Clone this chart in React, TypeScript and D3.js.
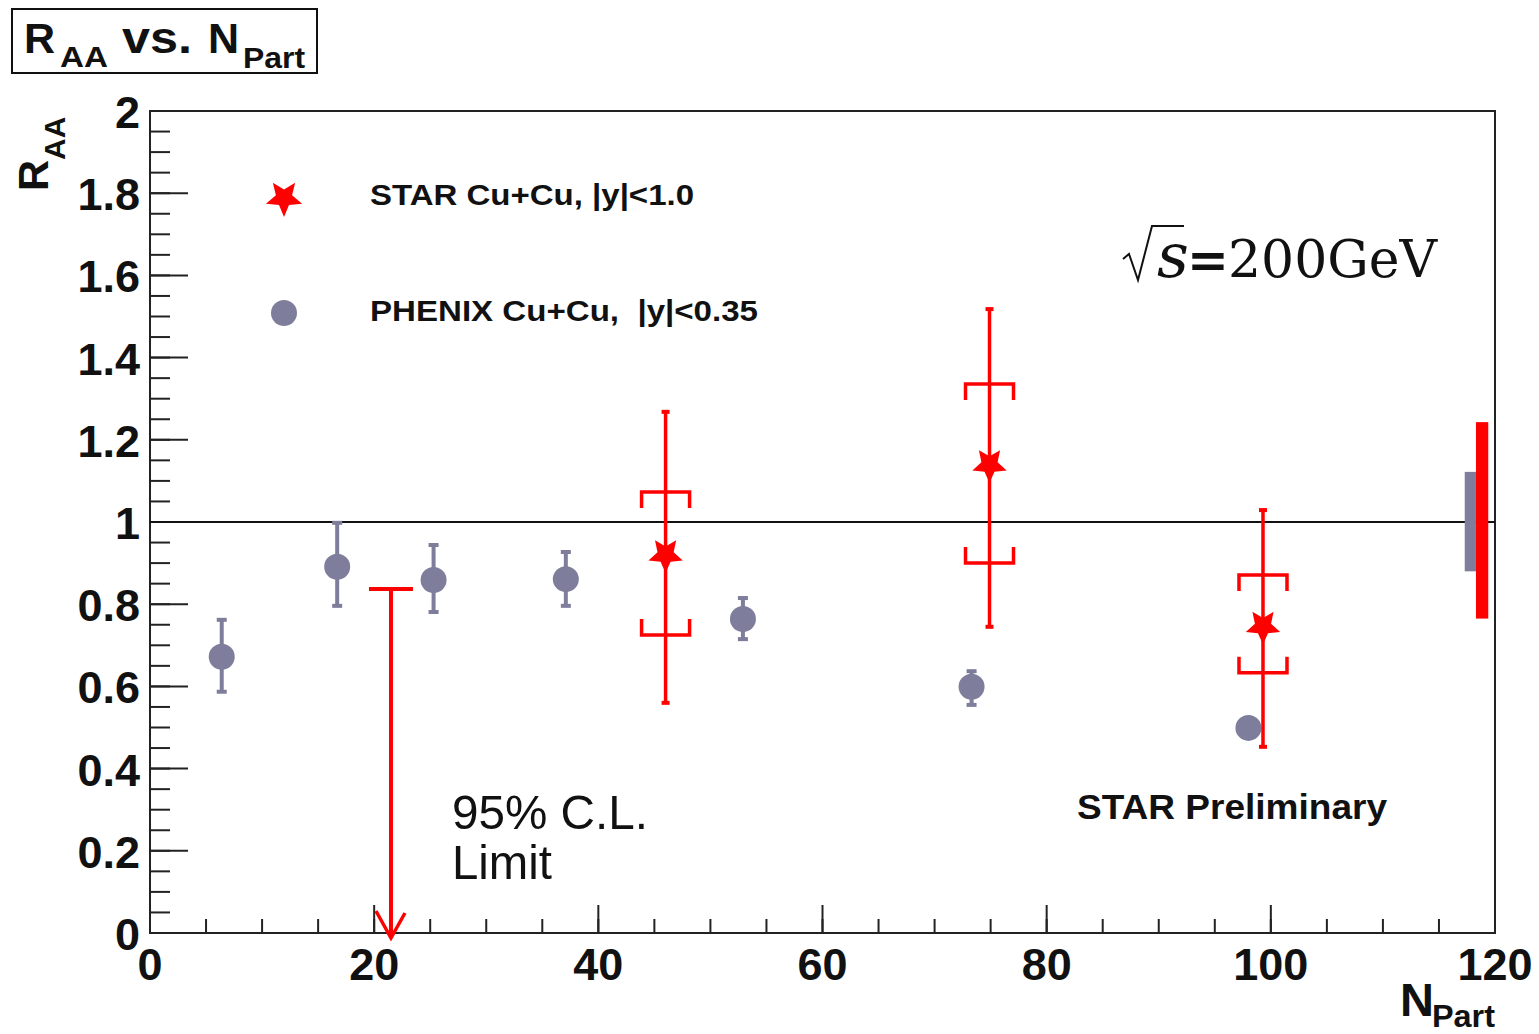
import React, { useEffect } from "react";
import * as d3 from "d3";

// ---- data ----
const phenixN = [6.4, 16.7, 25.3, 37.1, 52.9, 73.3, 98.0];
const phenixR = [0.672, 0.891, 0.859, 0.861, 0.764, 0.599, 0.499];
const phenixHi = [0.762, 0.998, 0.944, 0.927, 0.815, 0.637, 0.52];
const phenixLo = [0.587, 0.796, 0.781, 0.796, 0.715, 0.555, 0.48];

const starN = [46.0, 74.9, 99.3];
const starR = [0.92, 1.139, 0.746];
const starStatHi = [1.268, 1.518, 1.029];
const starStatLo = [0.56, 0.745, 0.453];
const starSysHi = [1.073, 1.336, 0.871];
const starSysLo = [0.725, 0.9, 0.633];

const limitN = 21.5;
const limitR = 0.837;

const phenixNorm = [0.88, 1.122]; // normalization band
const starNorm = [0.765, 1.243]; // normalization band
const normN = [117.3, 118.3, 119.4];

const xMajor = [0, 20, 40, 60, 80, 100, 120];
const yMajor = [0, 0.2, 0.4, 0.6, 0.8, 1, 1.2, 1.4, 1.6, 1.8, 2];
const yLabels = ["0", "0.2", "0.4", "0.6", "0.8", "1", "1.2", "1.4", "1.6", "1.8", "2"];

const legendItems = ["STAR Cu+Cu, |y|<1.0", "PHENIX Cu+Cu,  |y|<0.35"];

const RED = "#ff0000";
const GRAY = "#7e7e9c";
const SANS = "'Liberation Sans', Arial, Helvetica, sans-serif";
const SERIF = "'DejaVu Serif', serif";

const L = 150, R = 1495, T = 111, B = 933;

function starPath(cx: number, cy: number, Ro: number, ri: number) {
  const pts: [number, number][] = [];
  for (let i = 0; i < 10; i++) {
    const a = Math.PI / 2 + (i * Math.PI) / 5;
    const rr = i % 2 === 0 ? Ro : ri;
    pts.push([cx + rr * Math.cos(a), cy + rr * Math.sin(a)]);
  }
  return d3.line()(pts) + "Z";
}

export default function App() {
  useEffect(() => {
    document.body.style.margin = "0";
    document.body.style.overflow = "hidden";
  }, []);

  const x = d3.scaleLinear().domain([0, 120]).range([L, R]);
  const y = d3.scaleLinear().domain([0, 2]).range([B, T]);

  const xMinor = d3.range(0, 120.001, 5);
  const yMinor = d3.range(0, 2.0001, 0.05);

  return (
    <svg width={1539} height={1034} style={{ position: "absolute", left: 0, top: 0, background: "#fff" }}>
      <rect x={0} y={0} width={1539} height={1034} fill="#fff" />

      {/* title box */}
      <rect x={12} y={9} width={305} height={64} fill="#fff" stroke="#111" strokeWidth={2} />
      <g fontFamily={SANS} fontWeight="bold" fill="#111">
        <text x={24} y={53} fontSize={43}>R</text>
        <text x={60} y={67} fontSize={30} textLength={48} lengthAdjust="spacingAndGlyphs">AA</text>
        <text x={122} y={53} fontSize={44} textLength={70} lengthAdjust="spacingAndGlyphs">vs.</text>
        <text x={208} y={53} fontSize={43}>N</text>
        <text x={243} y={68} fontSize={30} textLength={62} lengthAdjust="spacingAndGlyphs">Part</text>
      </g>

      {/* frame */}
      <rect x={L} y={T} width={R - L} height={B - T} fill="none" stroke="#222" strokeWidth={2} />

      {/* y ticks */}
      {yMinor.map((v, i) => (
        <line key={"ym" + i} x1={L} x2={L + 20} y1={y(v)} y2={y(v)} stroke="#222" strokeWidth={2} />
      ))}
      {yMajor.map((v, i) => (
        <line key={"yM" + i} x1={L} x2={L + 38} y1={y(v)} y2={y(v)} stroke="#222" strokeWidth={2} />
      ))}
      {/* x ticks */}
      {xMinor.map((v, i) => (
        <line key={"xm" + i} x1={x(v)} x2={x(v)} y1={B} y2={B - 14} stroke="#222" strokeWidth={2} />
      ))}
      {xMajor.map((v, i) => (
        <line key={"xM" + i} x1={x(v)} x2={x(v)} y1={B} y2={B - 28} stroke="#222" strokeWidth={2} />
      ))}

      {/* tick labels */}
      <g fontFamily={SANS} fontWeight="bold" fontSize={45} fill="#111">
        {yMajor.map((v, i) => (
          <text key={"yl" + i} x={140} y={y(v) + 17} textAnchor="end">{yLabels[i]}</text>
        ))}
        {xMajor.map((v, i) => (
          <text key={"xl" + i} x={x(v)} y={980} textAnchor="middle">{String(v)}</text>
        ))}
      </g>

      {/* axis titles */}
      <g fontFamily={SANS} fontWeight="bold" fill="#111">
        <text transform="translate(48,191) rotate(-90)">
          <tspan fontSize={43}>R</tspan>
          <tspan fontSize={30} dy={17}>AA</tspan>
        </text>
        <text x={1400} y={1016} fontSize={47}>N</text>
        <text x={1432} y={1027} fontSize={31} textLength={63} lengthAdjust="spacingAndGlyphs">Part</text>
      </g>

      {/* y = 1 reference line */}
      <line x1={L} x2={R} y1={y(1)} y2={y(1)} stroke="#111" strokeWidth={2} />

      {/* normalization boxes */}
      <rect x={x(normN[0])} width={x(normN[1]) - x(normN[0])} y={y(phenixNorm[1])} height={y(phenixNorm[0]) - y(phenixNorm[1])} fill={GRAY} />
      <rect x={x(normN[1])} width={x(normN[2]) - x(normN[1])} y={y(starNorm[1])} height={y(starNorm[0]) - y(starNorm[1])} fill={RED} />

      {/* PHENIX points */}
      {phenixN.map((n, i) => {
        const cx = x(n);
        return (
          <g key={"ph" + i} fill={GRAY} stroke={GRAY}>
            <line x1={cx} x2={cx} y1={y(phenixHi[i])} y2={y(phenixLo[i])} strokeWidth={4} />
            <rect x={cx - 5} y={y(phenixHi[i]) - 2} width={10} height={4} stroke="none" />
            <rect x={cx - 5} y={y(phenixLo[i]) - 2} width={10} height={4} stroke="none" />
            <circle cx={cx} cy={y(phenixR[i])} r={13} stroke="none" />
          </g>
        );
      })}

      {/* upper limit */}
      <g stroke={RED} strokeWidth={4} fill="none">
        <line x1={x(limitN) - 22} x2={x(limitN) + 22} y1={y(limitR)} y2={y(limitR)} />
        <line x1={x(limitN)} x2={x(limitN)} y1={y(limitR)} y2={y(0) + 5} />
        <polyline points={`${x(limitN) - 15},${y(0) - 22} ${x(limitN)},${y(0) + 5} ${x(limitN) + 14},${y(0) - 20}`} strokeWidth={3.5} />
      </g>

      {/* STAR points */}
      {starN.map((n, i) => {
        const cx = x(n);
        const hw = 24, arm = 16;
        const yh = y(starSysHi[i]), yl = y(starSysLo[i]);
        return (
          <g key={"st" + i}>
            <g stroke={RED} strokeWidth={3.5} fill="none">
              <line x1={cx} x2={cx} y1={y(starStatHi[i])} y2={y(starStatLo[i])} />
              <polyline points={`${cx - hw},${yh + arm} ${cx - hw},${yh} ${cx + hw},${yh} ${cx + hw},${yh + arm}`} />
              <polyline points={`${cx - hw},${yl - arm} ${cx - hw},${yl} ${cx + hw},${yl} ${cx + hw},${yl - arm}`} />
            </g>
            <rect x={cx - 4} y={y(starStatHi[i]) - 2} width={8} height={4} fill={RED} />
            <rect x={cx - 4} y={y(starStatLo[i]) - 2} width={8} height={4} fill={RED} />
            <path d={starPath(cx, y(starR[i]), 18, 8.5)} fill={RED} />
          </g>
        );
      })}

      {/* legend */}
      <path d={starPath(284, 198, 19, 8.5)} fill={RED} />
      <circle cx={284} cy={313} r={13} fill={GRAY} />
      <g fontFamily={SANS} fontWeight="bold" fontSize={29} fill="#111">
        <text x={370} y={205} textLength={324} lengthAdjust="spacingAndGlyphs">{legendItems[0]}</text>
        <text x={370} y={321} textLength={388} lengthAdjust="spacingAndGlyphs" style={{ whiteSpace: "pre" }}>{legendItems[1]}</text>
      </g>

      {/* sqrt(s) = 200 GeV */}
      <path d="M1123,259 L1129,254 L1138,280 L1152,226 L1184,226" fill="none" stroke="#111" strokeWidth={2} />
      <text x={1157} y={277} fontFamily={SERIF} fontStyle="italic" fontSize={62} fill="#111">s</text>
      <text x={1187} y={277} fontFamily={SERIF} fontWeight="bold" fontSize={50} fill="#111">=</text>
      <text x={1228} y={277} fontFamily={SERIF} fontSize={52} fill="#111">200GeV</text>

      {/* annotations */}
      <text x={1077} y={819} fontFamily={SANS} fontWeight="bold" fontSize={35} fill="#111" textLength={310} lengthAdjust="spacingAndGlyphs">STAR Preliminary</text>
      <text x={452} y={829} fontFamily={SANS} fontSize={49} fill="#111" textLength={196} lengthAdjust="spacingAndGlyphs">95% C.L.</text>
      <text x={452} y={879} fontFamily={SANS} fontSize={49} fill="#111" textLength={100} lengthAdjust="spacingAndGlyphs">Limit</text>
    </svg>
  );
}
